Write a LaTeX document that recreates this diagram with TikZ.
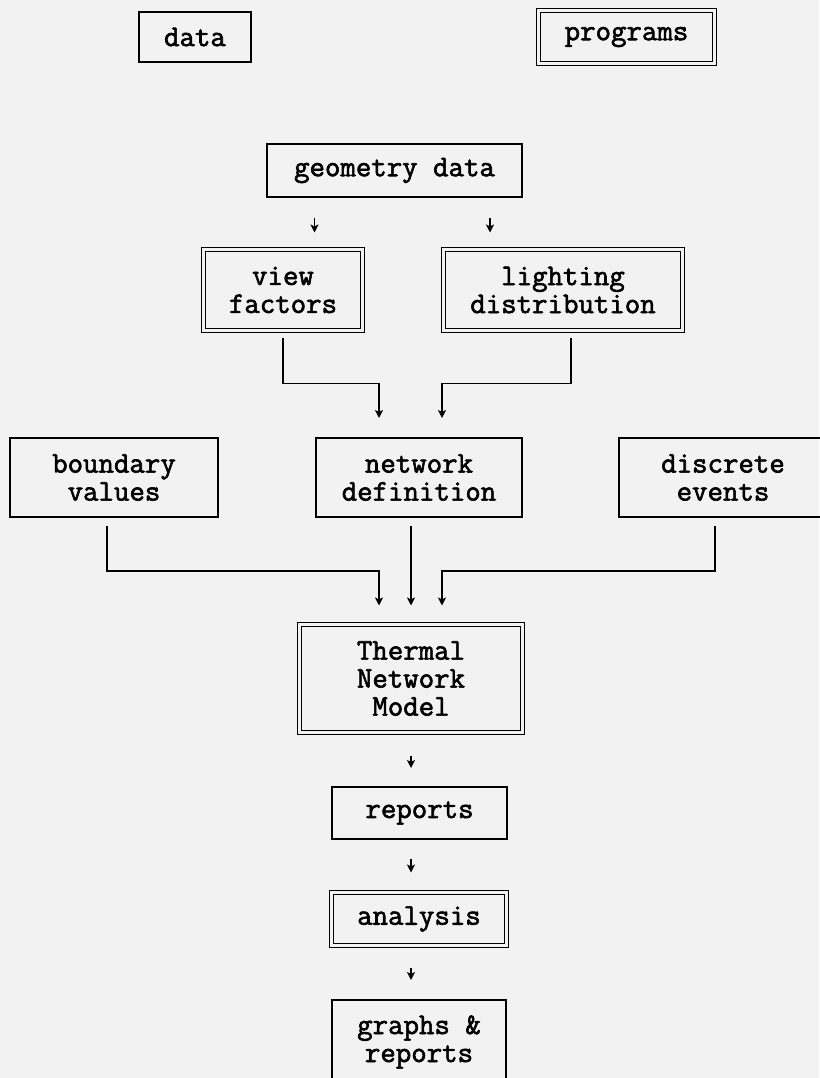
\documentclass[tikz,border=0pt]{standalone}
\usepackage{fontspec}
\setmonofont{Latin Modern Mono}[UprightFeatures={FakeBold=2}]
\usetikzlibrary{arrows.meta}
\definecolor{paper}{RGB}{242,242,242}
\begin{document}
\begin{tikzpicture}[x=1pt, y=-1pt,
  every node/.style={draw, line width=1.8pt, inner sep=0pt, outer sep=0pt, align=center,
    font=\ttfamily\fontsize{30}{28}\selectfont},
  dbl/.style={line width=1.6pt, double=paper, double distance=2.2pt},
  link/.style={line width=1.8pt, -{Stealth[length=8pt,width=8pt,inset=2pt]}}]
  \fill[paper] (0,0) rectangle (819,1078);
  \useasboundingbox (0,0) rectangle (819,1078);
  \node[minimum width=112pt, minimum height=50pt] (dat) at (195,37) {data};
  \node[dbl, minimum width=176pt, minimum height=53pt] (prg) at (626.5,37) {programs};
  \node[minimum width=255pt, minimum height=53pt] (geo) at (394.5,170.5) {geometry data};
  \node[dbl, minimum width=159pt, minimum height=81pt] (vf) at (283,290) {view\\factors};
  \node[dbl, minimum width=239pt, minimum height=81pt] (ld) at (563,290) {lighting\\distribution};
  \node[minimum width=208pt, minimum height=79pt] (bv) at (114,477.5) {boundary\\values};
  \node[minimum width=206pt, minimum height=79pt] (nd) at (419,477.5) {network\\definition};
  \node[minimum width=208pt, minimum height=79pt] (de) at (723,477.5) {discrete\\events};
  \node[dbl, minimum width=223pt, minimum height=108pt] (tnm) at (411,678.5) {Thermal\\Network\\Model};
  \node[minimum width=175pt, minimum height=52pt] (rep) at (419.5,813) {reports};
  \node[dbl, minimum width=175pt, minimum height=53pt] (ana) at (419,919) {analysis};
  \node[minimum width=174pt, minimum height=84pt] (gr) at (419,1042) {graphs \&\\reports};
  \draw[link, shorten <=21pt, shorten >=17pt] ([xshift=-80pt]geo.south) -- ([xshift=-80pt]geo.south |- vf.north);
  \draw[link, shorten <=21pt, shorten >=17pt] ([xshift=95.5pt]geo.south) -- ([xshift=95.5pt]geo.south |- ld.north);
  \draw[link] ([yshift=-7pt]vf.south) -- ++(0,46) -| ([xshift=-40pt,yshift=20pt]nd.north);
  \draw[link] ([xshift=8pt,yshift=-7pt]ld.south) -- ++(0,46) -| ([xshift=23pt,yshift=20pt]nd.north);
  \draw[link] ([xshift=-7pt,yshift=-9pt]bv.south) -- ++(0,45) -| ([xshift=-32pt,yshift=19pt]tnm.north);
  \draw[link] ([xshift=-8pt,yshift=-9pt]nd.south) -- ([yshift=19pt]tnm.north);
  \draw[link] ([xshift=-8pt,yshift=-9pt]de.south) -- ++(0,45) -| ([xshift=31pt,yshift=19pt]tnm.north);
  \draw[link, shorten <=23pt, shorten >=19pt] (tnm.south) -- (tnm.south |- rep.north);
  \draw[link, shorten <=20pt, shorten >=20pt] (tnm.south |- rep.south) -- (tnm.south |- ana.north);
  \draw[link, shorten <=22pt, shorten >=20pt] (tnm.south |- ana.south) -- (tnm.south |- gr.north);
\end{tikzpicture}
\end{document}
